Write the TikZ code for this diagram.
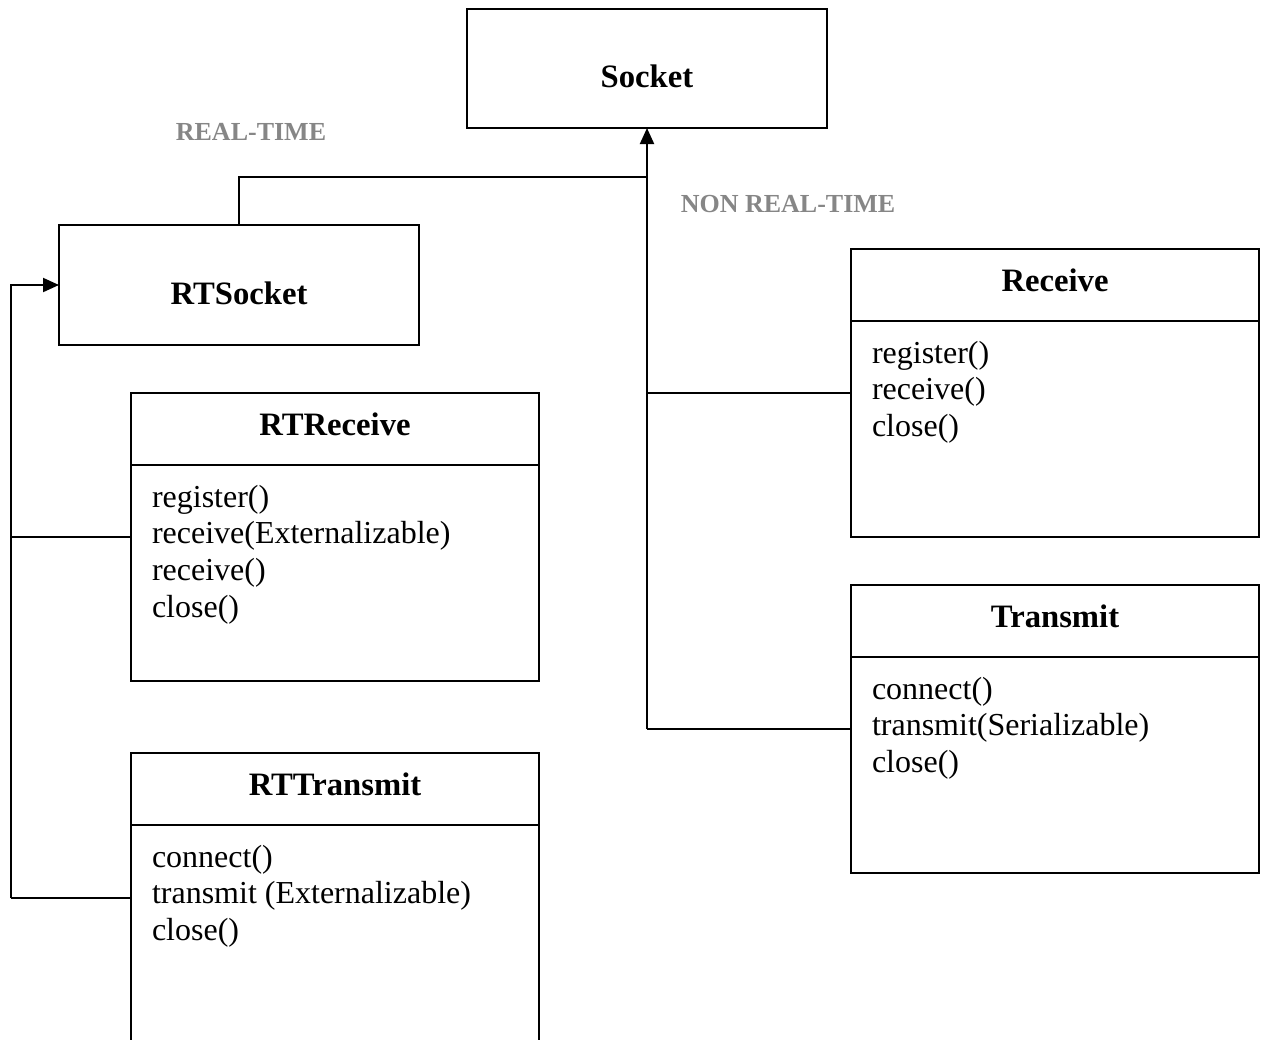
\documentclass[tikz,border=0pt]{standalone}
\usepackage{fontspec}
\setmainfont{Liberation Serif}
\usetikzlibrary{arrows.meta}
\begin{document}
\begin{tikzpicture}[x=0.75pt,y=-0.75pt,
  line width=1.5pt,
  box/.style={draw,rectangle,inner sep=0pt,outer sep=0pt,anchor=north west},
  title/.style={font=\fontsize{24.5}{28}\selectfont\bfseries,inner sep=0pt,anchor=base},
  methods/.style={font=\fontsize{24}{27.5}\selectfont,align=left,inner sep=0pt,anchor=north west},
  tag/.style={font=\fontsize{19.5}{22}\selectfont\bfseries,text=gray!95!white,inner sep=0pt,anchor=base},
  link/.style={line width=1.5pt},
  tip/.style={-{Triangle[length=12pt,width=10.5pt]}}]
\useasboundingbox (0,0) rectangle (1266,1039);
\clip (0,0) rectangle (1266,1039);

% plain boxes
\node[box,minimum width=270pt,minimum height=89.25pt] (socket) at (467,9) {};
\node[title] (socketT) at (647,87) {Socket};
\node[box,minimum width=270pt,minimum height=90pt] (rtsocket) at (59,225) {};
\node[title] (rtsocketT) at (239,304) {RTSocket};

% class boxes
\node[box,minimum width=306pt,minimum height=216pt] (rtreceive) at (131,393) {};
\draw (131,465) -- (539,465);
\node[title] (rtreceiveT) at (335,435) {RTReceive};
\node[methods] (rtreceiveM) at (151,484) {register()\\receive(Externalizable)\\receive()\\close()};

\node[box,minimum width=306pt,minimum height=240pt] (rttransmit) at (131,753) {};
\draw (131,825) -- (539,825);
\node[title] (rttransmitT) at (335,795) {RTTransmit};
\node[methods] (rttransmitM) at (151,844) {connect()\\transmit (Externalizable)\\close()};

\node[box,minimum width=306pt,minimum height=216pt] (receive) at (851,249) {};
\draw (851,321) -- (1259,321);
\node[title] (receiveT) at (1055,291) {Receive};
\node[methods] (receiveM) at (871,340) {register()\\receive()\\close()};

\node[box,minimum width=306pt,minimum height=216pt] (transmit) at (851,585) {};
\draw (851,657) -- (1259,657);
\node[title] (transmitT) at (1055,627) {Transmit};
\node[methods] (transmitM) at (871,676) {connect()\\transmit(Serializable)\\close()};

% labels
\node[tag] (rt) at (251,140) {REAL-TIME};
\node[tag] (nrt) at (788,212) {NON REAL-TIME};

% non real-time hierarchy
\path (socket.south) ++(0,49) coordinate (trunkTop)
      (socket.south |- receive.north) ++(0,144) coordinate (trunkR)
      (socket.south |- transmit.north) ++(0,144) coordinate (trunkT);
\draw[link,tip] (trunkT) -- (socket.south);
\draw[link] (trunkR) -- (receive.west |- trunkR);
\draw[link] (trunkT) -- (transmit.west |- trunkT);
\draw[link] (rtsocket.north) |- (trunkTop);

% real-time hierarchy
\coordinate (leftTop) at (11,285);
\coordinate (leftR) at (11,537);
\coordinate (leftT) at (11,898);
\draw[link,tip] (leftT) -- (leftTop) -- (rtsocket.west |- leftTop);
\draw[link] (leftR) -- (rtreceive.west |- leftR);
\draw[link] (leftT) -- (rttransmit.west |- leftT);
\end{tikzpicture}
\end{document}
